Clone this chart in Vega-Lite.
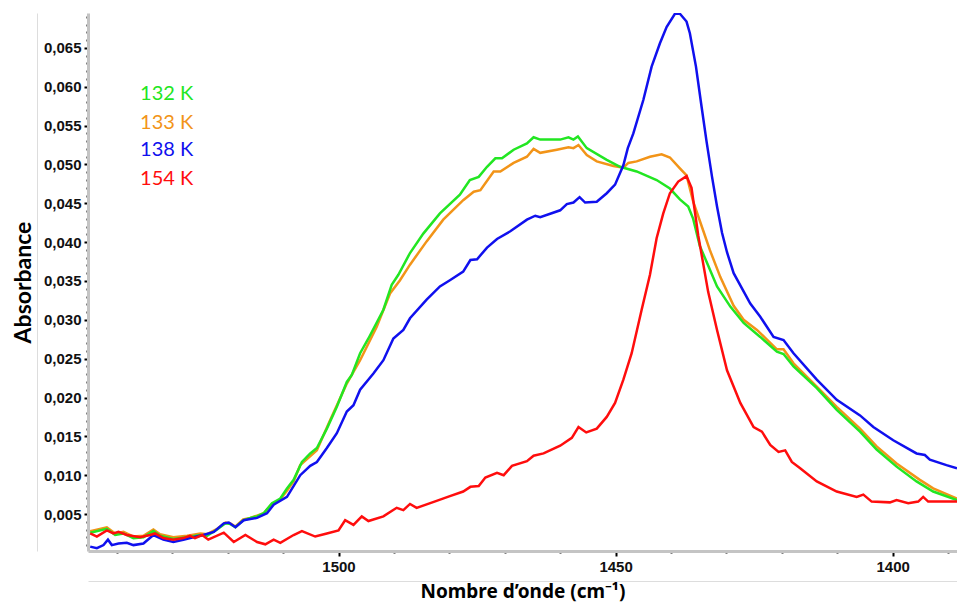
{
"$schema": "https://vega.github.io/schema/vega-lite/v6.json",
"width": 869, "height": 538,
"autosize": {"type": "none"},
"padding": {"left": 88, "top": 13, "right": 0, "bottom": 52},
"background": "white",
"config": {"view": {"stroke": null}, "font": "Liberation Sans"},
"datasets": {
"spectra": [
{"s":"133 K","w":1544.8,"a":0.0028},{"s":"133 K","w":1541.8,"a":0.0033},{"s":"133 K","w":1540.3,"a":0.0025},{"s":"133 K","w":1538.8,"a":0.0027},{"s":"133 K","w":1537.0,"a":0.0021},{"s":"133 K","w":1535.2,"a":0.0022},{"s":"133 K","w":1533.4,"a":0.0030},{"s":"133 K","w":1532.2,"a":0.0024},{"s":"133 K","w":1529.8,"a":0.0020},{"s":"133 K","w":1527.3,"a":0.0022},{"s":"133 K","w":1524.9,"a":0.0025},{"s":"133 K","w":1523.7,"a":0.0024},{"s":"133 K","w":1521.9,"a":0.0031},{"s":"133 K","w":1520.4,"a":0.0039},{"s":"133 K","w":1519.5,"a":0.0038},{"s":"133 K","w":1518.6,"a":0.0034},{"s":"133 K","w":1517.2,"a":0.0043},{"s":"133 K","w":1515.9,"a":0.0045},{"s":"133 K","w":1514.7,"a":0.0048},{"s":"133 K","w":1513.5,"a":0.0051},{"s":"133 K","w":1512.0,"a":0.0063},{"s":"133 K","w":1510.5,"a":0.0069},{"s":"133 K","w":1509.3,"a":0.0080},{"s":"133 K","w":1508.1,"a":0.0092},{"s":"133 K","w":1506.9,"a":0.0113},{"s":"133 K","w":1503.9,"a":0.0132},{"s":"133 K","w":1501.5,"a":0.0171},{"s":"133 K","w":1498.5,"a":0.0218},{"s":"133 K","w":1496.1,"a":0.0248},{"s":"133 K","w":1493.1,"a":0.0291},{"s":"133 K","w":1490.7,"a":0.0334},{"s":"133 K","w":1488.9,"a":0.0351},{"s":"133 K","w":1487.1,"a":0.0371},{"s":"133 K","w":1484.1,"a":0.0401},{"s":"133 K","w":1481.1,"a":0.0429},{"s":"133 K","w":1477.5,"a":0.0454},{"s":"133 K","w":1475.6,"a":0.0465},{"s":"133 K","w":1474.4,"a":0.0467},{"s":"133 K","w":1472.0,"a":0.0491},{"s":"133 K","w":1470.8,"a":0.0491},{"s":"133 K","w":1468.4,"a":0.0502},{"s":"133 K","w":1466.0,"a":0.0510},{"s":"133 K","w":1464.8,"a":0.0520},{"s":"133 K","w":1463.6,"a":0.0515},{"s":"133 K","w":1460.6,"a":0.0519},{"s":"133 K","w":1458.5,"a":0.0522},{"s":"133 K","w":1457.6,"a":0.0521},{"s":"133 K","w":1456.7,"a":0.0525},{"s":"133 K","w":1455.2,"a":0.0512},{"s":"133 K","w":1453.4,"a":0.0504},{"s":"133 K","w":1450.4,"a":0.0498},{"s":"133 K","w":1448.6,"a":0.0496},{"s":"133 K","w":1447.7,"a":0.0502},{"s":"133 K","w":1446.2,"a":0.0504},{"s":"133 K","w":1443.8,"a":0.0510},{"s":"133 K","w":1441.7,"a":0.0513},{"s":"133 K","w":1440.2,"a":0.0509},{"s":"133 K","w":1438.4,"a":0.0495},{"s":"133 K","w":1437.2,"a":0.0486},{"s":"133 K","w":1436.0,"a":0.0452},{"s":"133 K","w":1434.2,"a":0.0415},{"s":"133 K","w":1433.0,"a":0.0390},{"s":"133 K","w":1431.1,"a":0.0355},{"s":"133 K","w":1428.7,"a":0.0318},{"s":"133 K","w":1426.9,"a":0.0300},{"s":"133 K","w":1424.5,"a":0.0287},{"s":"133 K","w":1420.9,"a":0.0262},{"s":"133 K","w":1419.7,"a":0.0262},{"s":"133 K","w":1417.9,"a":0.0244},{"s":"133 K","w":1413.7,"a":0.0214},{"s":"133 K","w":1410.1,"a":0.0188},{"s":"133 K","w":1405.9,"a":0.0160},{"s":"133 K","w":1402.9,"a":0.0137},{"s":"133 K","w":1399.3,"a":0.0115},{"s":"133 K","w":1395.1,"a":0.0094},{"s":"133 K","w":1392.7,"a":0.0083},{"s":"133 K","w":1388.4,"a":0.0070},
{"s":"132 K","w":1544.8,"a":0.0026},{"s":"132 K","w":1541.8,"a":0.0031},{"s":"132 K","w":1540.3,"a":0.0023},{"s":"132 K","w":1538.8,"a":0.0025},{"s":"132 K","w":1537.0,"a":0.0019},{"s":"132 K","w":1535.2,"a":0.0020},{"s":"132 K","w":1533.4,"a":0.0028},{"s":"132 K","w":1532.2,"a":0.0022},{"s":"132 K","w":1529.8,"a":0.0018},{"s":"132 K","w":1527.3,"a":0.0020},{"s":"132 K","w":1524.9,"a":0.0023},{"s":"132 K","w":1523.7,"a":0.0022},{"s":"132 K","w":1521.9,"a":0.0030},{"s":"132 K","w":1520.4,"a":0.0038},{"s":"132 K","w":1519.5,"a":0.0037},{"s":"132 K","w":1518.6,"a":0.0033},{"s":"132 K","w":1517.2,"a":0.0042},{"s":"132 K","w":1515.9,"a":0.0045},{"s":"132 K","w":1514.7,"a":0.0047},{"s":"132 K","w":1513.5,"a":0.0051},{"s":"132 K","w":1512.0,"a":0.0064},{"s":"132 K","w":1510.5,"a":0.0070},{"s":"132 K","w":1509.3,"a":0.0083},{"s":"132 K","w":1508.1,"a":0.0094},{"s":"132 K","w":1506.6,"a":0.0117},{"s":"132 K","w":1505.1,"a":0.0128},{"s":"132 K","w":1503.9,"a":0.0135},{"s":"132 K","w":1502.1,"a":0.0160},{"s":"132 K","w":1500.3,"a":0.0188},{"s":"132 K","w":1498.5,"a":0.0220},{"s":"132 K","w":1497.6,"a":0.0229},{"s":"132 K","w":1496.1,"a":0.0257},{"s":"132 K","w":1494.6,"a":0.0276},{"s":"132 K","w":1491.9,"a":0.0313},{"s":"132 K","w":1490.4,"a":0.0345},{"s":"132 K","w":1489.2,"a":0.0358},{"s":"132 K","w":1487.1,"a":0.0386},{"s":"132 K","w":1484.7,"a":0.0411},{"s":"132 K","w":1481.7,"a":0.0437},{"s":"132 K","w":1478.1,"a":0.0461},{"s":"132 K","w":1476.3,"a":0.0480},{"s":"132 K","w":1474.7,"a":0.0484},{"s":"132 K","w":1473.2,"a":0.0497},{"s":"132 K","w":1471.7,"a":0.0508},{"s":"132 K","w":1470.5,"a":0.0508},{"s":"132 K","w":1468.4,"a":0.0519},{"s":"132 K","w":1466.0,"a":0.0527},{"s":"132 K","w":1464.8,"a":0.0535},{"s":"132 K","w":1463.6,"a":0.0532},{"s":"132 K","w":1460.0,"a":0.0532},{"s":"132 K","w":1458.5,"a":0.0535},{"s":"132 K","w":1457.6,"a":0.0532},{"s":"132 K","w":1456.8,"a":0.0536},{"s":"132 K","w":1455.2,"a":0.0521},{"s":"132 K","w":1451.6,"a":0.0506},{"s":"132 K","w":1449.2,"a":0.0497},{"s":"132 K","w":1446.2,"a":0.0491},{"s":"132 K","w":1442.6,"a":0.0480},{"s":"132 K","w":1440.2,"a":0.0469},{"s":"132 K","w":1438.4,"a":0.0455},{"s":"132 K","w":1436.9,"a":0.0446},{"s":"132 K","w":1436.0,"a":0.0430},{"s":"132 K","w":1434.8,"a":0.0395},{"s":"132 K","w":1433.3,"a":0.0370},{"s":"132 K","w":1431.7,"a":0.0343},{"s":"132 K","w":1429.3,"a":0.0317},{"s":"132 K","w":1426.9,"a":0.0296},{"s":"132 K","w":1423.9,"a":0.0278},{"s":"132 K","w":1420.9,"a":0.0259},{"s":"132 K","w":1419.7,"a":0.0256},{"s":"132 K","w":1417.9,"a":0.0240},{"s":"132 K","w":1413.7,"a":0.0212},{"s":"132 K","w":1410.1,"a":0.0184},{"s":"132 K","w":1405.9,"a":0.0156},{"s":"132 K","w":1402.9,"a":0.0133},{"s":"132 K","w":1399.3,"a":0.0111},{"s":"132 K","w":1395.7,"a":0.0092},{"s":"132 K","w":1392.7,"a":0.0079},{"s":"132 K","w":1388.4,"a":0.0068},
{"s":"138 K","w":1544.8,"a":0.0008},{"s":"138 K","w":1543.6,"a":0.0006},{"s":"138 K","w":1542.4,"a":0.0010},{"s":"138 K","w":1541.6,"a":0.0017},{"s":"138 K","w":1540.9,"a":0.0010},{"s":"138 K","w":1539.7,"a":0.0012},{"s":"138 K","w":1538.2,"a":0.0013},{"s":"138 K","w":1537.0,"a":0.0010},{"s":"138 K","w":1535.2,"a":0.0012},{"s":"138 K","w":1533.4,"a":0.0023},{"s":"138 K","w":1531.6,"a":0.0017},{"s":"138 K","w":1529.8,"a":0.0014},{"s":"138 K","w":1528.0,"a":0.0017},{"s":"138 K","w":1526.2,"a":0.0020},{"s":"138 K","w":1524.4,"a":0.0023},{"s":"138 K","w":1522.5,"a":0.0027},{"s":"138 K","w":1520.7,"a":0.0038},{"s":"138 K","w":1519.8,"a":0.0039},{"s":"138 K","w":1518.6,"a":0.0033},{"s":"138 K","w":1517.1,"a":0.0042},{"s":"138 K","w":1514.7,"a":0.0045},{"s":"138 K","w":1512.9,"a":0.0051},{"s":"138 K","w":1511.7,"a":0.0062},{"s":"138 K","w":1509.3,"a":0.0072},{"s":"138 K","w":1506.9,"a":0.0100},{"s":"138 K","w":1505.1,"a":0.0112},{"s":"138 K","w":1503.9,"a":0.0117},{"s":"138 K","w":1502.1,"a":0.0135},{"s":"138 K","w":1500.3,"a":0.0154},{"s":"138 K","w":1498.5,"a":0.0182},{"s":"138 K","w":1497.3,"a":0.0190},{"s":"138 K","w":1496.1,"a":0.0210},{"s":"138 K","w":1493.7,"a":0.0231},{"s":"138 K","w":1491.9,"a":0.0248},{"s":"138 K","w":1490.1,"a":0.0276},{"s":"138 K","w":1488.3,"a":0.0287},{"s":"138 K","w":1487.1,"a":0.0302},{"s":"138 K","w":1484.1,"a":0.0326},{"s":"138 K","w":1481.7,"a":0.0343},{"s":"138 K","w":1479.9,"a":0.0351},{"s":"138 K","w":1477.5,"a":0.0362},{"s":"138 K","w":1476.2,"a":0.0377},{"s":"138 K","w":1475.0,"a":0.0378},{"s":"138 K","w":1473.2,"a":0.0393},{"s":"138 K","w":1471.4,"a":0.0404},{"s":"138 K","w":1469.0,"a":0.0414},{"s":"138 K","w":1466.0,"a":0.0429},{"s":"138 K","w":1464.5,"a":0.0434},{"s":"138 K","w":1463.6,"a":0.0432},{"s":"138 K","w":1460.0,"a":0.0441},{"s":"138 K","w":1458.8,"a":0.0449},{"s":"138 K","w":1457.6,"a":0.0451},{"s":"138 K","w":1456.5,"a":0.0458},{"s":"138 K","w":1455.5,"a":0.0451},{"s":"138 K","w":1453.4,"a":0.0452},{"s":"138 K","w":1451.6,"a":0.0463},{"s":"138 K","w":1450.1,"a":0.0474},{"s":"138 K","w":1449.2,"a":0.0489},{"s":"138 K","w":1448.6,"a":0.0499},{"s":"138 K","w":1447.8,"a":0.0521},{"s":"138 K","w":1446.8,"a":0.0540},{"s":"138 K","w":1445.0,"a":0.0583},{"s":"138 K","w":1443.5,"a":0.0626},{"s":"138 K","w":1442.0,"a":0.0656},{"s":"138 K","w":1440.8,"a":0.0677},{"s":"138 K","w":1439.3,"a":0.0694},{"s":"138 K","w":1438.4,"a":0.0694},{"s":"138 K","w":1437.2,"a":0.0684},{"s":"138 K","w":1436.6,"a":0.0669},{"s":"138 K","w":1435.5,"a":0.0626},{"s":"138 K","w":1434.5,"a":0.0575},{"s":"138 K","w":1433.6,"a":0.0530},{"s":"138 K","w":1432.6,"a":0.0484},{"s":"138 K","w":1431.7,"a":0.0446},{"s":"138 K","w":1430.8,"a":0.0412},{"s":"138 K","w":1429.9,"a":0.0387},{"s":"138 K","w":1428.7,"a":0.0360},{"s":"138 K","w":1425.7,"a":0.0321},{"s":"138 K","w":1423.9,"a":0.0304},{"s":"138 K","w":1421.5,"a":0.0278},{"s":"138 K","w":1419.7,"a":0.0274},{"s":"138 K","w":1417.9,"a":0.0257},{"s":"138 K","w":1413.7,"a":0.0223},{"s":"138 K","w":1410.1,"a":0.0197},{"s":"138 K","w":1405.9,"a":0.0177},{"s":"138 K","w":1403.5,"a":0.0162},{"s":"138 K","w":1399.9,"a":0.0145},{"s":"138 K","w":1395.7,"a":0.0128},{"s":"138 K","w":1394.2,"a":0.0126},{"s":"138 K","w":1393.3,"a":0.0120},{"s":"138 K","w":1390.3,"a":0.0113},{"s":"138 K","w":1388.4,"a":0.0109},
{"s":"154 K","w":1544.8,"a":0.0025},{"s":"154 K","w":1543.6,"a":0.0021},{"s":"154 K","w":1541.8,"a":0.0029},{"s":"154 K","w":1540.6,"a":0.0025},{"s":"154 K","w":1539.7,"a":0.0027},{"s":"154 K","w":1538.2,"a":0.0023},{"s":"154 K","w":1535.8,"a":0.0020},{"s":"154 K","w":1534.0,"a":0.0023},{"s":"154 K","w":1533.1,"a":0.0025},{"s":"154 K","w":1531.6,"a":0.0019},{"s":"154 K","w":1529.8,"a":0.0017},{"s":"154 K","w":1528.0,"a":0.0019},{"s":"154 K","w":1526.8,"a":0.0022},{"s":"154 K","w":1525.9,"a":0.0019},{"s":"154 K","w":1524.6,"a":0.0023},{"s":"154 K","w":1523.5,"a":0.0017},{"s":"154 K","w":1520.7,"a":0.0026},{"s":"154 K","w":1518.9,"a":0.0014},{"s":"154 K","w":1516.8,"a":0.0023},{"s":"154 K","w":1514.7,"a":0.0014},{"s":"154 K","w":1513.2,"a":0.0011},{"s":"154 K","w":1511.7,"a":0.0017},{"s":"154 K","w":1510.5,"a":0.0013},{"s":"154 K","w":1508.1,"a":0.0023},{"s":"154 K","w":1506.6,"a":0.0028},{"s":"154 K","w":1504.2,"a":0.0021},{"s":"154 K","w":1502.1,"a":0.0025},{"s":"154 K","w":1500.0,"a":0.0029},{"s":"154 K","w":1498.8,"a":0.0042},{"s":"154 K","w":1497.3,"a":0.0036},{"s":"154 K","w":1495.8,"a":0.0047},{"s":"154 K","w":1494.6,"a":0.0041},{"s":"154 K","w":1491.9,"a":0.0047},{"s":"154 K","w":1489.5,"a":0.0058},{"s":"154 K","w":1488.3,"a":0.0055},{"s":"154 K","w":1487.1,"a":0.0063},{"s":"154 K","w":1485.9,"a":0.0058},{"s":"154 K","w":1482.3,"a":0.0067},{"s":"154 K","w":1479.9,"a":0.0073},{"s":"154 K","w":1477.5,"a":0.0079},{"s":"154 K","w":1476.2,"a":0.0085},{"s":"154 K","w":1474.7,"a":0.0086},{"s":"154 K","w":1473.5,"a":0.0097},{"s":"154 K","w":1471.4,"a":0.0103},{"s":"154 K","w":1470.2,"a":0.0100},{"s":"154 K","w":1468.7,"a":0.0112},{"s":"154 K","w":1466.0,"a":0.0118},{"s":"154 K","w":1464.8,"a":0.0125},{"s":"154 K","w":1463.0,"a":0.0128},{"s":"154 K","w":1460.0,"a":0.0138},{"s":"154 K","w":1457.9,"a":0.0148},{"s":"154 K","w":1456.7,"a":0.0162},{"s":"154 K","w":1455.3,"a":0.0155},{"s":"154 K","w":1453.4,"a":0.0160},{"s":"154 K","w":1451.6,"a":0.0175},{"s":"154 K","w":1450.1,"a":0.0193},{"s":"154 K","w":1448.6,"a":0.0223},{"s":"154 K","w":1447.1,"a":0.0257},{"s":"154 K","w":1445.3,"a":0.0313},{"s":"154 K","w":1443.8,"a":0.0358},{"s":"154 K","w":1442.6,"a":0.0405},{"s":"154 K","w":1441.4,"a":0.0437},{"s":"154 K","w":1440.2,"a":0.0463},{"s":"154 K","w":1438.7,"a":0.0478},{"s":"154 K","w":1437.2,"a":0.0485},{"s":"154 K","w":1436.3,"a":0.0470},{"s":"154 K","w":1435.1,"a":0.0409},{"s":"154 K","w":1433.3,"a":0.0336},{"s":"154 K","w":1431.7,"a":0.0287},{"s":"154 K","w":1429.9,"a":0.0235},{"s":"154 K","w":1427.5,"a":0.0193},{"s":"154 K","w":1425.1,"a":0.0162},{"s":"154 K","w":1423.6,"a":0.0156},{"s":"154 K","w":1422.1,"a":0.0139},{"s":"154 K","w":1420.6,"a":0.0130},{"s":"154 K","w":1419.4,"a":0.0132},{"s":"154 K","w":1418.2,"a":0.0117},{"s":"154 K","w":1416.7,"a":0.0109},{"s":"154 K","w":1413.7,"a":0.0092},{"s":"154 K","w":1410.1,"a":0.0079},{"s":"154 K","w":1406.5,"a":0.0072},{"s":"154 K","w":1405.3,"a":0.0075},{"s":"154 K","w":1403.8,"a":0.0066},{"s":"154 K","w":1400.5,"a":0.0065},{"s":"154 K","w":1399.3,"a":0.0068},{"s":"154 K","w":1397.2,"a":0.0064},{"s":"154 K","w":1395.4,"a":0.0066},{"s":"154 K","w":1394.5,"a":0.0072},{"s":"154 K","w":1393.6,"a":0.0066},{"s":"154 K","w":1388.4,"a":0.0066}
],
"labels": [
{"s":"132 K","w":1535.8,"a":0.0591},
{"s":"133 K","w":1535.8,"a":0.0554},
{"s":"138 K","w":1535.8,"a":0.0518},
{"s":"154 K","w":1535.8,"a":0.0481}
]
},
"layer": [
{
"data": {"name": "spectra"},
"mark": {"type": "line", "strokeWidth": 2.5, "clip": true},
"encoding": {
"x": {"field": "w", "type": "quantitative",
 "scale": {"domain": [1545.2, 1388.4], "nice": false, "zero": false},
 "axis": {"orient": "bottom", "title": "Nombre d’onde (cm⁻¹)",
  "values": [1540,1530,1520,1510,1500,1490,1480,1470,1460,1450,1440,1430,1420,1410,1400,1390],
  "labelExpr": "datum.value % 50 === 0 ? format(datum.value, 'd') : ''",
  "labelOverlap": false, "labelFlush": false, "grid": false,
  "tickColor": "black",
  "tickSize": {"condition": {"test": "datum.value % 50 === 0", "value": 5}, "value": 2},
  "tickWidth": 2,
  "domainColor": "#c4c4c4", "domainWidth": 3,
  "labelFont": "Liberation Sans", "labelFontWeight": "bold", "labelFontSize": 15, "labelColor": "#111111", "labelPadding": 3,
  "titleFont": "Noto Sans", "titleFontSize": 19, "titleFontWeight": "bold", "titleColor": "black", "titlePadding": 8}},
"y": {"field": "a", "type": "quantitative",
 "scale": {"domain": [0.00024, 0.0695], "nice": false, "zero": false},
 "axis": {"orient": "left", "title": "Absorbance",
  "values": [0.001,0.002,0.003,0.004,0.005,0.006,0.007,0.008,0.009,0.010,0.011,0.012,0.013,0.014,0.015,0.016,0.017,0.018,0.019,0.020,0.021,0.022,0.023,0.024,0.025,0.026,0.027,0.028,0.029,0.030,0.031,0.032,0.033,0.034,0.035,0.036,0.037,0.038,0.039,0.040,0.041,0.042,0.043,0.044,0.045,0.046,0.047,0.048,0.049,0.050,0.051,0.052,0.053,0.054,0.055,0.056,0.057,0.058,0.059,0.060,0.061,0.062,0.063,0.064,0.065,0.066,0.067,0.068,0.069],
  "labelExpr": "round(datum.value * 1000) % 5 === 0 ? replace(format(datum.value, '.3f'), '.', ',') : ''",
  "labelOverlap": false, "labelFlush": false, "grid": false,
  "tickColor": "black",
  "tickSize": {"condition": {"test": "round(datum.value * 1000) % 5 === 0", "value": 4}, "value": 2},
  "tickWidth": 2,
  "domainColor": "#c4c4c4", "domainWidth": 3,
  "labelFont": "Liberation Sans", "labelFontWeight": "bold", "labelFontSize": 15, "labelColor": "#111111", "labelPadding": 3,
  "titleFont": "Lato", "titleFontSize": 23, "titleFontWeight": "bold", "titleColor": "black", "titlePadding": 8}},
"color": {"field": "s", "type": "nominal",
 "scale": {"domain": ["132 K", "133 K", "138 K", "154 K"], "range": ["#22e622", "#f29418", "#1010ee", "#ff0d0d"]},
 "legend": null}
}
},
{
"data": {"name": "labels"},
"mark": {"type": "text", "align": "left", "baseline": "middle", "font": "Lato", "fontSize": 20},
"encoding": {
"x": {"field": "w", "type": "quantitative",
 "axis": {"orient": "bottom", "offset": 30, "title": null, "labels": false, "ticks": false, "grid": false, "domainColor": "#dddddd", "domainWidth": 1}},
"y": {"field": "a", "type": "quantitative",
 "axis": {"orient": "left", "offset": 51, "title": null, "labels": false, "ticks": false, "grid": false, "domainColor": "#dddddd", "domainWidth": 1}},
"text": {"field": "s"},
"color": {"field": "s", "type": "nominal", "legend": null}
}
}
],
"resolve": {"axis": {"x": "independent", "y": "independent"}}
}
